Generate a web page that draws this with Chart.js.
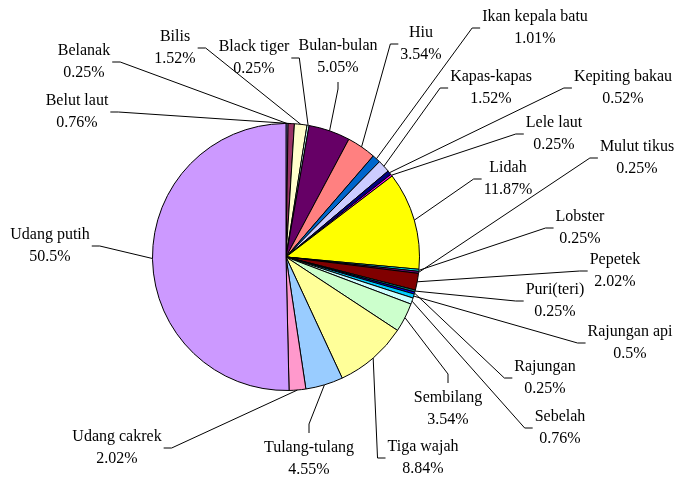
<!DOCTYPE html>
<html>
<head>
<meta charset="utf-8">
<script src="https://cdn.jsdelivr.net/npm/chart.js@4"></script>
<style>
  body { margin: 0; background: #fff; }
  #wrap { width: 675px; height: 480px; position: relative; }
</style>
</head>
<body>
<div id="wrap"><canvas id="pieChart"></canvas></div>
<script>
const categories = ["Belanak", "Belut laut", "Bilis", "Black tiger", "Bulan-bulan", "Hiu",
  "Ikan kepala batu", "Kapas-kapas", "Kepiting bakau", "Lele laut", "Lidah", "Lobster",
  "Mulut tikus", "Pepetek", "Puri(teri)", "Rajungan", "Rajungan api", "Sebelah",
  "Sembilang", "Tiga wajah", "Tulang-tulang", "Udang cakrek", "Udang putih"];
const percents = [0.25, 0.76, 1.52, 0.25, 5.05, 3.54, 1.01, 1.52, 0.52, 0.25, 11.87, 0.25,
  0.25, 2.02, 0.25, 0.25, 0.5, 0.76, 3.54, 8.84, 4.55, 2.02, 50.5];
const percentLabels = percents.map(v => v + "%");

const sliceColors = ["#9999FF", "#993366", "#FFFFCC", "#CCFFFF", "#660066", "#FF8080",
  "#0066CC", "#CCCCFF", "#000080", "#FF00FF", "#FFFF00", "#00FFFF", "#800080", "#800000",
  "#008080", "#0000FF", "#00CCFF", "#CCFFFF", "#CCFFCC", "#FFFF99", "#99CCFF", "#FF99CC",
  "#CC99FF"];

// label placement (centre of the two-line label) and which side the leader joins
const labelSpots = [[84, 62], [77, 112], [175, 48], [254, 58], [338, 57], [421, 44],
  [535, 28], [491, 88], [623, 88], [554, 134], [508, 179], [580, 228],
  [637, 158], [615, 271], [555, 301], [545, 378], [630, 343], [560, 428],
  [448, 409], [423, 458], [309, 459], [117, 448], [50, 246]];
const labelSides = ["R", "R", "R", "R", "B", "L", "L", "L", "L", "L", "L", "L",
  "L", "L", "L", "L", "L", "L", "T", "L", "T", "R", "R"];

const FONT = "16px 'Liberation Serif', 'Times New Roman', serif";
const LINE_H = 22.5;

const outsideLabels = {
  id: "outsideLabels",
  afterDraw(chart) {
    const ctx = chart.ctx;
    const arcs = chart.getDatasetMeta(0).data;
    ctx.save();
    ctx.font = FONT;
    ctx.fillStyle = "#000";
    ctx.strokeStyle = "#000";
    ctx.lineWidth = 1;
    arcs.forEach((arc, i) => {
      const mid = (arc.startAngle + arc.endAngle) / 2;
      const px = arc.x + Math.cos(mid) * arc.outerRadius;
      const py = arc.y + Math.sin(mid) * arc.outerRadius;
      const [cx, cy] = labelSpots[i];
      const w = Math.max(ctx.measureText(categories[i]).width, ctx.measureText(percentLabels[i]).width);
      let ax, ay, ex, ey;
      if (labelSides[i] === "L") { ax = cx - w / 2 - 2; ay = cy; ex = ax - 8; ey = ay; }
      else if (labelSides[i] === "R") { ax = cx + w / 2 + 2; ay = cy; ex = ax + 8; ey = ay; }
      else if (labelSides[i] === "T") { ax = cx; ay = cy - 26; ex = ax; ey = ay - 9; }
      else { ax = cx; ay = cy + 25; ex = ax; ey = ay + 7; }
      ctx.beginPath();
      ctx.moveTo(px, py);
      ctx.lineTo(ex, ey);
      ctx.lineTo(ax, ay);
      ctx.stroke();
      ctx.textAlign = "center";
      ctx.textBaseline = "middle";
      ctx.fillText(categories[i], cx, cy - LINE_H / 2);
      ctx.fillText(percentLabels[i], cx, cy + LINE_H / 2);
    });
    ctx.restore();
  }
};

const ctx = document.getElementById("pieChart").getContext("2d");
new Chart(ctx, {
  type: "pie",
  data: {
    labels: categories,
    datasets: [{
      data: percents,
      backgroundColor: sliceColors,
      borderColor: "#000",
      borderWidth: 1
    }]
  },
  options: {
    responsive: true,
    maintainAspectRatio: false,
    animation: false,
    layout: { padding: { left: 152, top: 123, right: 255, bottom: 89 } },
    plugins: {
      legend: { display: false },
      tooltip: { enabled: false }
    }
  },
  plugins: [outsideLabels]
});
</script>
</body>
</html>
